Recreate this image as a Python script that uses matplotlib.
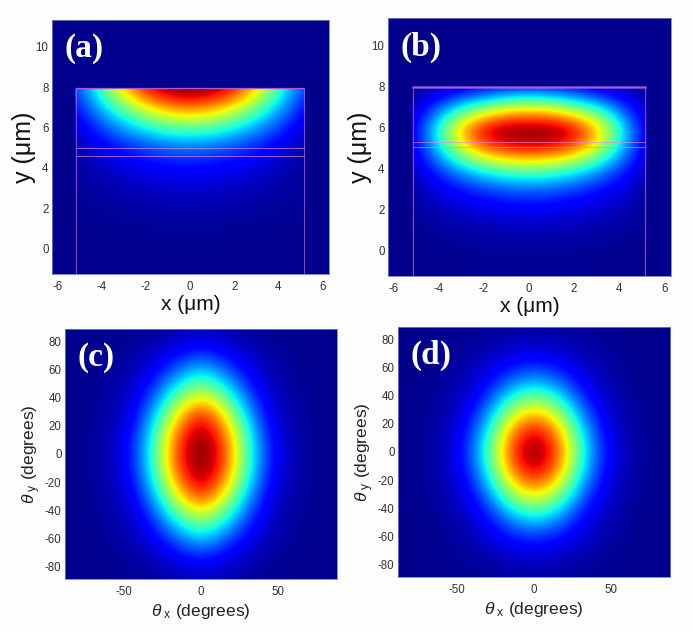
import numpy as np
import matplotlib
matplotlib.use('Agg')
import matplotlib.pyplot as plt
from matplotlib.patches import Rectangle

plt.rcParams['font.family'] = ['Liberation Sans', 'DejaVu Sans']
plt.rcParams['mathtext.fontset'] = 'custom'
plt.rcParams['mathtext.rm'] = 'Liberation Sans'
plt.rcParams['mathtext.it'] = 'Liberation Sans:italic'
plt.rcParams['axes.unicode_minus'] = False

W, H = 695, 632
BG = '#fdfdfe'

# right half of the near field maps, x = 0, 1.04 ... 5.2, rows y = 7.9 ... -1.1
near_y = [7.9, 6.9, 5.9, 4.9, 3.9, 2.9, 1.9, 0.9, -0.1, -1.1]
near_x = [0, 1.04, 2.08, 3.12, 4.16, 5.2]
field_a = [
    [1.00, .97, .87, .66, .38, .16],
    [.74, .70, .58, .42, .26, .10],
    [.41, .39, .32, .24, .15, .05],
    [.20, .19, .16, .12, .07, .02],
    [.10, .095, .08, .06, .035, .01],
    [.055, .05, .04, .03, .02, .01],
    [.025, .02, .02, .015, .01, .005],
    [.01, .01, .008, .006, .004, .002],
    [.004, .004, .003, .002, .001, 0],
    [0, 0, 0, 0, 0, 0],
]
field_b = [
    [.10, .09, .07, .05, .02, 0],
    [.64, .60, .48, .35, .18, .04],
    [1.00, 1.00, .93, .70, .35, .06],
    [.88, .85, .76, .55, .28, .05],
    [.44, .42, .35, .25, .14, .03],
    [.19, .18, .15, .11, .07, .01],
    [.085, .08, .065, .05, .03, .01],
    [.03, .03, .025, .02, .01, .005],
    [.01, .01, .01, .005, .005, 0],
    [.003, .003, .003, .002, .001, 0],
]

# one quadrant of the far field maps, theta_x = 0, 15 ... 90 and theta_y = 0, 15 ... 90
far_angles = [0, 15, 30, 45, 60, 75, 90]
field_c = [
    [1.00, .85, .41, .12, .03, .006, 0],
    [.98, .79, .38, .10, .03, .005, 0],
    [.86, .62, .28, .07, .02, .004, 0],
    [.55, .40, .17, .05, .015, .003, 0],
    [.32, .21, .09, .03, .01, .002, 0],
    [.12, .08, .035, .015, .005, .001, 0],
    [.035, .025, .012, .005, .002, 0, 0],
]
field_d = [
    [1.00, .83, .40, .12, .03, .006, 0],
    [.92, .73, .34, .10, .025, .005, 0],
    [.66, .52, .22, .07, .02, .004, 0],
    [.37, .28, .12, .04, .012, .002, 0],
    [.16, .13, .06, .025, .007, .001, 0],
    [.055, .045, .025, .012, .004, 0, 0],
    [.018, .012, .006, .003, .001, 0, 0],
]

# waveguide outline in the near field panels (um)
guide_x = 5.15
guide_top_a = 7.95
guide_top_b = 7.95
layers_a = [5.0, 4.6]
layers_b = [5.3, 5.05]

near_xticks = [-6, -4, -2, 0, 2, 4, 6]
near_yticks = [0, 2, 4, 6, 8, 10]
far_xticks = [-50, 0, 50]
far_yticks = [-80, -60, -40, -20, 0, 20, 40, 60, 80]


def pixel_axes(fig, left, top, right, bottom):
    return fig.add_axes([left / W, 1 - bottom / H, (right - left) / W, (bottom - top) / H])


def style_axes(ax, label):
    ax.set_facecolor((0, 0, 0.55))
    ax.tick_params(length=0, labelsize=8.3, labelcolor='#333333')
    ax.tick_params(axis='x', pad=5)
    ax.tick_params(axis='y', pad=2.5)
    for spine in ax.spines.values():
        spine.set_color('#6f7fc0')
        spine.set_linewidth(0.6)
    ax.text(0.045, 0.947, label, transform=ax.transAxes, color='white', fontsize=24,
            family='Liberation Serif', fontweight='bold', va='top', ha='left')


def draw_near(ax, half, top, layers, label, top_lw):
    grid = np.hstack([np.array(half)[:, :0:-1], np.array(half)])
    im = ax.imshow(grid, cmap='jet', vmin=-0.012, vmax=0.97, aspect='auto', origin='upper',
                   extent=[-near_x[-1] - 0.52, near_x[-1] + 0.52, near_y[-1] - 0.5, near_y[0] + 0.5],
                   interpolation='bicubic', interpolation_stage='data')
    im.set_clip_path(Rectangle((-5.2, -1.25), 10.4, 9.15, transform=ax.transData))
    ax.set_xlim(-6.26, 6.3)
    ax.set_ylim(-1.25, 11.32)
    ax.plot([-guide_x, -guide_x, guide_x, guide_x], [-1.25, top, top, -1.25],
            color='#c456d0', lw=0.8, alpha=0.75)
    ax.plot([-guide_x, guide_x], [top, top], color='#b060d8', lw=top_lw, alpha=0.8)
    for y in layers:
        ax.plot([-guide_x, guide_x], [y, y], color='#e48ad8', lw=0.7, alpha=0.65)
    ax.set_xticks(near_xticks)
    ax.set_yticks(near_yticks)
    style_axes(ax, label)
    ax.set_xlabel('x (μm)', fontsize=15, labelpad=1.5, color='#111111')
    ax.set_ylabel('y (μm)', fontsize=18, labelpad=0, color='#111111')


def draw_far(ax, quad, label):
    q = np.array(quad)
    right = np.hstack([q[:, :0:-1], q])
    grid = np.vstack([right[:0:-1], right])
    step = far_angles[1] - far_angles[0]
    ax.imshow(grid, cmap='jet', vmin=-0.012, vmax=0.97, aspect='auto', origin='lower',
              extent=[-far_angles[-1] - step / 2, far_angles[-1] + step / 2,
                      -far_angles[-1] - step / 2, far_angles[-1] + step / 2],
              interpolation='bicubic', interpolation_stage='data')
    ax.set_xlim(-88, 88)
    ax.set_ylim(-89, 89)
    ax.set_xticks(far_xticks)
    ax.set_yticks(far_yticks)
    style_axes(ax, label)
    ax.set_xlabel(r'$\theta_{\ \mathrm{x}}$ (degrees)', fontsize=12.5, labelpad=3, color='#222222')
    ax.set_ylabel(r'$\theta_{\ \mathrm{y}}$ (degrees)', fontsize=12.5, labelpad=1, color='#222222')


fig = plt.figure(figsize=(W / 100, H / 100), dpi=100, facecolor=BG)

ax_a = pixel_axes(fig, 52, 20, 329, 274)
draw_near(ax_a, field_a, guide_top_a, layers_a, '(a)', 0.9)

ax_b = pixel_axes(fig, 388, 18, 671, 276)
draw_near(ax_b, field_b, guide_top_b, layers_b, '(b)', 1.8)

ax_c = pixel_axes(fig, 65, 329, 337, 579)
draw_far(ax_c, field_c, '(c)')

ax_d = pixel_axes(fig, 398, 327, 670, 577)
draw_far(ax_d, field_d, '(d)')

fig.savefig('out.png', dpi=100, facecolor=BG)
